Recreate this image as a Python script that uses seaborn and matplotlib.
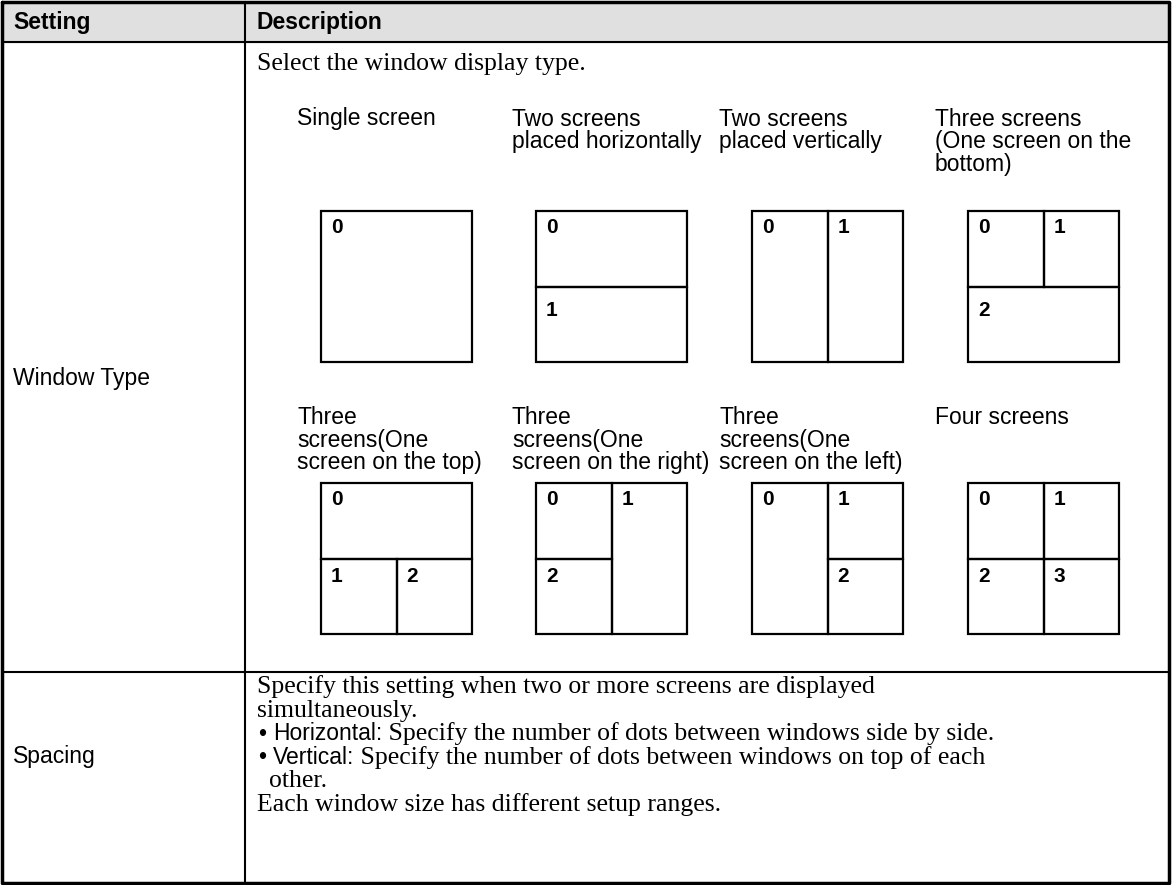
import matplotlib.pyplot as plt
import seaborn as sns

sns.set_theme(style="white")
plt.rcParams['font.family'] = ['Liberation Sans', 'DejaVu Sans']
plt.rcParams['text.color'] = 'black'

# table text
header = ["Setting", "Description"]
row_names = ["Window Type", "Spacing"]
intro = "Select the window display type."

# captions of the eight window layouts (top row, bottom row)
captions = [
    ["Single screen"],
    ["Two screens", "placed horizontally"],
    ["Two screens", "placed vertically"],
    ["Three screens", "(One screen on the", "bottom)"],
    ["Three", "screens(One", "screen on the top)"],
    ["Three", "screens(One", "screen on the right)"],
    ["Three", "screens(One", "screen on the left)"],
    ["Four screens"],
]

# each layout: cells as (x0, y0, x1, y1) in box fractions, plus its screen number
layouts = [
    [(0, 0, 1, 1, "0")],
    [(0, 0, 1, 0.5, "0"), (0, 0.5, 1, 1, "1")],
    [(0, 0, 0.5, 1, "0"), (0.5, 0, 1, 1, "1")],
    [(0, 0, 0.5, 0.5, "0"), (0.5, 0, 1, 0.5, "1"), (0, 0.5, 1, 1, "2")],
    [(0, 0, 1, 0.5, "0"), (0, 0.5, 0.5, 1, "1"), (0.5, 0.5, 1, 1, "2")],
    [(0, 0, 0.5, 0.5, "0"), (0.5, 0, 1, 1, "1"), (0, 0.5, 0.5, 1, "2")],
    [(0, 0, 0.5, 1, "0"), (0.5, 0, 1, 0.5, "1"), (0.5, 0.5, 1, 1, "2")],
    [(0, 0, 0.5, 0.5, "0"), (0.5, 0, 1, 0.5, "1"), (0, 0.5, 0.5, 1, "2"), (0.5, 0.5, 1, 1, "3")],
]

# spacing description: (bullet, sans label, serif body)
spacing_lines = [
    ("", "", "Specify this setting when two or more screens are displayed"),
    ("", "", "simultaneously."),
    ("\u2022", "Horizontal:", " Specify the number of dots between windows side by side."),
    ("\u2022", "Vertical:", " Specify the number of dots between windows on top of each"),
    ("", "", "other."),
    ("", "", "Each window size has different setup ranges."),
]

W, H = 1172, 885
fig = plt.figure(figsize=(W / 100, H / 100), dpi=100)
ax = fig.add_axes([0, 0, 1, 1])
ax.set_xlim(0, W)
ax.set_ylim(H, 0)
ax.axis('off')

serif = ['Liberation Serif', 'DejaVu Serif']
sans = ['Liberation Sans', 'DejaVu Sans']
fs_sans = 16.5
fs_serif = 18.5

# table frame
left, right, top, bottom = 2, 1169, 2, 883
col = 245
head_bottom = 42
row_div = 672
ax.fill_between([left, right], top, head_bottom, color='#e0e0e0', zorder=0)
ax.plot([left, right, right, left, left], [top, top, bottom, bottom, top], color='black', lw=2.5)
ax.plot([left, right], [head_bottom, head_bottom], color='black', lw=1.5)
ax.plot([left, right], [row_div, row_div], color='black', lw=1.5)
ax.plot([col, col], [top, bottom], color='black', lw=1.5)

ax.text(13, 23, header[0], fontsize=fs_sans, fontweight='bold', family=sans, va='center')
ax.text(257, 23, header[1], fontsize=fs_sans, fontweight='bold', family=sans, va='center')
ax.text(13, 378, row_names[0], fontsize=fs_sans, family=sans, va='center')
ax.text(13, 757, row_names[1], fontsize=fs_sans, family=sans, va='center')

ax.text(257, 64, intro, fontsize=fs_serif, family=serif, va='center')

cap_x = [297, 512, 719, 935]
box_x = [321, 536, 752, 968]
box_y = [211, 483]
cap_y = [119, 418]
low_pad = [15, 9]
box = 151

for i, (cap, cells) in enumerate(zip(captions, layouts)):
    r, c = divmod(i, 4)
    for k, line in enumerate(cap):
        ax.text(cap_x[c], cap_y[r] + k * 22.5, line, fontsize=fs_sans, family=sans, va='center')
    bx, by = box_x[c], box_y[r]
    for x0, y0, x1, y1, lab in cells:
        ax.add_patch(plt.Rectangle((bx + x0 * box, by + y0 * box), (x1 - x0) * box, (y1 - y0) * box,
                                   fill=False, edgecolor='black', lw=1.6))
        pad = 7 if y0 == 0 else low_pad[r]
        ax.text(bx + x0 * box + 10, by + y0 * box + pad, lab, fontsize=15, fontweight='bold',
                family=sans, va='top')

fig.canvas.draw()
renderer = fig.canvas.get_renderer()
inv = ax.transData.inverted()
indent = [257, 257, 257, 257, 269, 257]
for j, (bullet, label, body) in enumerate(spacing_lines):
    y = 687 + j * 23.5
    x = indent[j]
    if bullet:
        ax.text(258, y, bullet, fontsize=fs_sans, family=sans, va='center')
    if label:
        t = ax.text(273, y, label, fontsize=fs_sans, family=sans, va='center')
        bb = t.get_window_extent(renderer)
        x = inv.transform((bb.x1, bb.y0))[0]
    ax.text(x, y, body, fontsize=fs_serif, family=serif, va='center')

fig.savefig('out.png', dpi=100)
